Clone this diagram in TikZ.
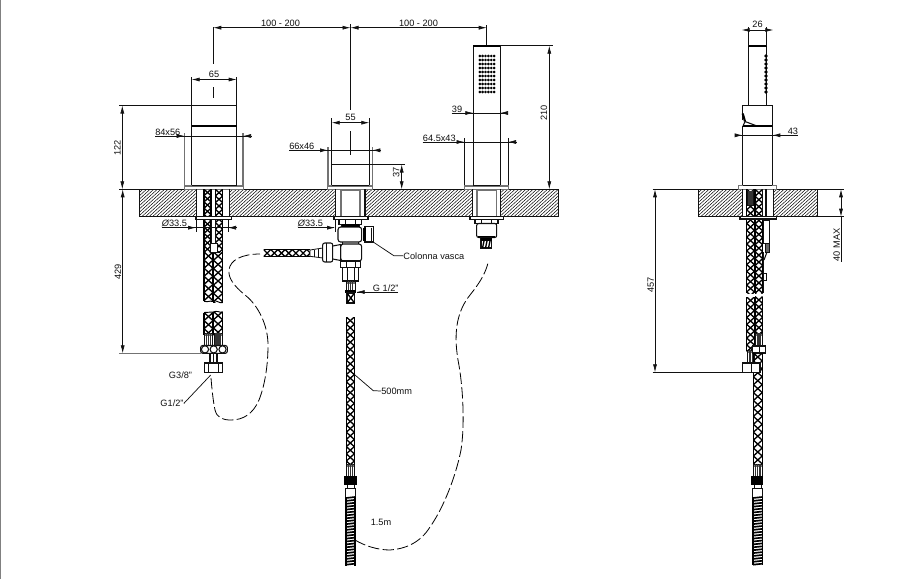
\documentclass[tikz,border=0pt]{standalone}
\usepackage{fontspec}
\setmainfont{Liberation Sans}
\usetikzlibrary{arrows.meta}
\definecolor{ink}{HTML}{111111}
\tikzset{
  ln/.style={draw=ink,line width=.8pt},
  thin ln/.style={draw=ink,line width=.55pt},
  gl/.style={draw=black!55,line width=.85pt},
  thick ln/.style={draw=black,line width=1.6pt},
  dim/.style={draw=ink,line width=.5pt,{Latex[length=6pt,width=3pt]}-{Latex[length=6pt,width=3pt]}},
  tip/.style={draw=ink,line width=.5pt,-{Latex[length=6pt,width=3pt]}},
  ext/.style={draw=ink,line width=.6pt},
  braid/.style={draw=black,line width=1pt},
  dash curve/.style={draw=black,line width=.6pt,dash pattern=on 8.5pt off 2.5pt,line cap=butt},
  lbl/.style={font=\fontsize{6.9}{8}\selectfont,text=ink,inner sep=0pt},
  lblr/.style={lbl,rotate=90},
}
\newcommand\hatchbox[4]{%
  \begin{scope}
    \clip (#1,#2) rectangle (#3,#4);
    \foreach \k in {0,3.6,...,460}{\draw[draw=black,line width=.36pt] ({#1+\k-30},{#4}) -- ({#1+\k},{#2});}
  \end{scope}
  \draw[ext] (#1,#2) rectangle (#3,#4);
}
\newcommand\hose[4]{%
  \begin{scope}
    \clip (#1,#3) rectangle (#2,#4);
    \pgfmathsetmacro\hw{#2-#1}
    \pgfmathsetmacro\hp{.9*\hw}
    \pgfmathtruncatemacro\hn{ceil((#4-#3)/\hp)}
    \foreach \k in {0,...,\hn}{
      \draw[braid] ({#1},{#3+\k*\hp}) -- ({#2},{#3+\k*\hp+\hp});
      \draw[braid] ({#2},{#3+\k*\hp}) -- ({#1},{#3+\k*\hp+\hp});
    }
  \end{scope}
  \draw[draw=black,line width=1pt] (#1,#3) -- (#1,#4) (#2,#3) -- (#2,#4);
}
\newcommand\hosex[4]{%
  \begin{scope}
    \clip (#1,#3) rectangle (#2,#4);
    \pgfmathsetmacro\hw{#4-#3}
    \pgfmathtruncatemacro\hn{ceil((#2-#1)/\hw)}
    \foreach \k in {0,...,\hn}{
      \draw[braid] ({#1+\k*\hw},{#3}) -- ({#1+\k*\hw+\hw},{#4});
      \draw[braid] ({#1+\k*\hw},{#4}) -- ({#1+\k*\hw+\hw},{#3});
    }
  \end{scope}
  \draw[draw=black,line width=1pt] (#1,#3) -- (#2,#3) (#1,#4) -- (#2,#4);
}
\newcommand\myspring[4]{%
  \draw[draw=black,line width=.9pt] (#1,#3) -- (#1,#4) (#2,#3) -- (#2,#4);
  \pgfmathtruncatemacro\hn{floor((#4-#3)/2.9)}
  \foreach \k in {0,...,\hn}{
    \draw[draw=black,line width=1.25pt] ({#1},{#3+\k*2.9+1}) -- ({#2},{#3+\k*2.9});
  }
}
\newcommand\ribs[4]{%
  \fill[black!55] (#1,#3) rectangle (#2,{#3+3});
  \draw[ext] (#1,#3) rectangle (#2,#4);
  \pgfmathsetmacro\hs{(#2-#1)/4}
  \foreach \k in {1,2,3}{\draw[draw=black!80,line width=.8pt] ({#1+\k*\hs},#3) -- ({#1+\k*\hs},#4);}
}
\begin{document}
\begin{tikzpicture}[x=.75pt,y=-.75pt]
\useasboundingbox (0,0) rectangle (914,579);
\fill[white] (0,0) rectangle (914,579);
\draw[draw=black!50,line width=1.05pt] (.7,0) -- (.7,579);
%% worktop, front view
\hatchbox{139.3}{189.3}{196.7}{216.7}
\hatchbox{229.3}{189.3}{335.7}{216.7}
\hatchbox{365}{189.3}{472.3}{216.7}
\hatchbox{500.7}{189.3}{558}{216.7}
\draw[ext] (119,189.3) -- (558,189.3);
%% left mixer
\draw[ext] (191.7,77) -- (191.7,186) (236.7,77) -- (236.7,186);
\draw[ext] (119,105.5) -- (236.7,105.5);
\draw[thick ln] (191.7,126) -- (236.7,126);
\draw[gl] (184.6,133) -- (184.6,186) (243,133) -- (243,186);
\draw[gl,fill=white] (184.3,186) rectangle (243.3,189.3);
\draw[ext] (191.7,185.5) -- (236.7,185.5);
\draw[dim] (191.7,79.5) -- (236.7,79.5);
\node[lbl] (t65) at (214,74) {65};
\draw[ext] (213.3,27) -- (213.3,63.5) (213.3,87) -- (213.3,97.5);
\draw[dim] (213.3,27.7) -- (350.5,27.7);
\node[lbl] (t100a) at (280.5,23.7) {100 - 200};
\draw[dim] (350.5,27.7) -- (486.7,27.7);
\node[lbl] (t100b) at (418.5,23.7) {100 - 200};
\draw[ext] (350.5,24) -- (350.5,110) (350.5,131) -- (350.5,155);
\draw[dim] (122.3,105.5) -- (122.3,189.3);
\node[lblr] (t122) at (117.5,148) {122};
\draw[ext] (155,136) -- (250,136);
\draw[tip] (176,136) -- (184.6,136);
\draw[tip] (251,136) -- (243,136);
\node[lbl,anchor=south west] (t84) at (155,135.4) {84x56};
%% left hoses
\draw[ext] (196.7,189.3) -- (196.7,216.7) (229.3,189.3) -- (229.3,216.7);
\hose{204}{211}{189.3}{252}
\hose{215.3}{222.7}{189.3}{252}
\hose{204}{213}{252}{301}
\hose{213.5}{222.7}{252}{302.5}
\draw[ext,fill=white] (211,219) rectangle (215.3,243);
\draw[ext,fill=white] (210,243) rectangle (217,252);
\draw[draw=black,line width=.7pt] (204,301) .. controls (207,303) and (210,300) .. (213,301.5) (213.5,301) .. controls (217,300) and (220,304) .. (222.7,302.5);
\draw[ln,fill=white] (196,216.7) rectangle (231.7,219.3);
\draw[ext] (196,219.3) -- (196,232) (228,219.3) -- (228,232);
\draw[ext] (161.7,227.7) -- (236.7,227.7);
\draw[tip] (188,227.7) -- (196,227.7);
\draw[tip] (237,227.7) -- (228,227.7);
\node[lbl,anchor=south west] (tphia) at (161.7,227) {{\itshape Ø}33.5};
\hose{204}{213}{312.5}{335}
\hose{213.5}{222.7}{311.5}{335}
\draw[draw=black,line width=.7pt] (204,312.5) .. controls (207,311) and (210,313.5) .. (213,312) (213.5,312) .. controls (216,310.5) and (220,312) .. (222.7,313);
\ribs{204.5}{212.5}{333}{346}
\ribs{214}{222}{333}{346}
\draw[ln,fill=white,rounded corners=1.5pt] (200.7,345.5) rectangle (227.3,353.3);
\foreach \cx in {205,213.7,222.5}{\draw[ln,fill=white] (\cx,349.4) circle[radius=3.6];}
\draw[ln,fill=white] (210,353.3) rectangle (217,363);
\draw[ext] (213.5,353.3) -- (213.5,363);
\draw[ln,fill=white] (204.3,363) rectangle (222.7,372.3);
\draw[ext] (208.5,363) -- (208.5,372.3) (218.5,363) -- (218.5,372.3);
\draw[dim] (122.7,189.3) -- (122.7,353.3);
\draw[gl] (119,353.3) -- (201,353.3);
\node[lblr] (t429) at (118,272) {429};
\node[lbl] (tg38) at (180.5,375) {G3/8"};
\node[lbl] (tg12) at (172,403.5) {G1/2"};
\draw[thin ln] (tg12.east) -- (210.7,375);
\draw[dash curve] (211,378) .. controls (212,390) and (213,400) .. (215,410) .. controls (217,418) and (223,420) .. (231,420) .. controls (243,420) and (253,414) .. (259,400) .. controls (265,385) and (268,365) .. (268,345) .. controls (268,325) and (258,305) .. (245,295) .. controls (234,286) and (228,278) .. (229,270) .. controls (230,260) and (242,254) .. (260,254);
%% centre mixer
\draw[ext] (331.7,118) -- (331.7,186) (369.3,118) -- (369.3,186);
\draw[dim] (331.7,122.7) -- (369.3,122.7);
\node[lbl] (t55) at (350.5,117) {55};
\draw[gl] (328,147) -- (328,186) (372.3,147) -- (372.3,186);
\draw[gl,fill=white] (327.7,186) rectangle (372.7,189.3);
\draw[ext] (331.7,185.3) -- (369.3,185.3);
\draw[ext] (331.7,164.5) -- (405,164.5);
\draw[ext] (289,150.3) -- (380,150.3);
\draw[tip] (319,150.3) -- (328,150.3);
\draw[tip] (381,150.3) -- (372.3,150.3);
\node[lbl,anchor=south west] (t66) at (289,149.6) {66x46};
\draw[dim] (401.7,164.5) -- (401.7,189.3);
\node[lblr] (t37) at (396.3,172.5) {37};
%% centre body
\draw[ln] (335.7,189.3) -- (335.7,216.7) (365,189.3) -- (365,216.7);
\draw[gl] (341,190.5) rectangle (360,216.7);
\draw[ln,fill=white] (334,216.7) rectangle (368,219.3);
\draw[ln,fill=white] (339,219.3) rectangle (361.7,224.5);
\draw[ext] (345,219.3) -- (345,224.5) (355.5,219.3) -- (355.5,224.5);
\draw[ln,fill=white,rounded corners=2pt] (338,227) rectangle (361.7,242);
\draw[ext] (341,224.5) -- (341,227) (359,224.5) -- (359,227);
\draw[thick ln] (342,225.5) -- (359,225.5);
\draw[ln,fill=white] (365,226.7) rectangle (373.3,242);
\draw[thick ln] (364.5,228) -- (364.5,241);
\draw[ext] (371,227.5) -- (371,241.5);
\draw[ln,fill=white,rounded corners=2pt] (340.7,244) rectangle (361.7,261);
\draw[ext] (342,242) -- (342,244) (358,242) -- (358,244);
\hosex{263.5}{310}{249.5}{256.7}
\draw[ext,fill=white] (310,250) -- (322.7,248) -- (322.7,258) -- (310,256.3) -- cycle;
\draw[ext] (314,249.5) -- (314,256.7) (318,249) -- (318,257.2);
\draw[ln,fill=white,rounded corners=1.5pt] (322.7,243) rectangle (332.7,262);
\draw[ext] (326,243) -- (326,262);
\draw[ln,fill=white] (332.7,246) -- (340.7,244.5) -- (340.7,260.5) -- (332.7,259) -- cycle;
\draw[ln,fill=white] (340.7,261) rectangle (360.7,267.7);
\draw[ext] (346,261) -- (346,267.7) (355,261) -- (355,267.7);
\draw[ln,fill=white] (342.7,267.7) rectangle (358.7,281);
\draw[ext] (347,267.7) -- (347,281) (354,267.7) -- (354,281);
\ribs{346}{355}{281}{291}
\fill[black] (345,290) rectangle (356,293);
\draw[ln,fill=white] (347,293) rectangle (354.5,303);
\draw[braid] (347,293) -- (354.5,303) (354.5,293) -- (347,303);
\draw[ext] (398,292) -- (357,292);
\draw[tip] (368,292) -- (356.7,292);
\node[lbl,anchor=south east] (tg12b) at (398.8,291.4) {G 1/2"};
\draw[ext] (335,219) -- (335,232);
\draw[ext] (297.7,227.7) -- (334,227.7);
\draw[tip] (326,227.7) -- (335,227.7);
\node[lbl,anchor=south west] (tphib) at (297.7,227) {{\itshape Ø}33.5};
\node[lbl,anchor=west] (tcol) at (403.2,255.8) {Colonna vasca};
\draw[thin ln] (tcol.west) -- (394,255.8) -- (372.7,241.7);
%% centre long hose
\hose{346.3}{354.3}{317}{464}
\ribs{346.3}{354.3}{464}{476}
\fill[black] (344,475.7) rectangle (356.7,485);
\draw[ext] (347,485) -- (347,489) (354,485) -- (354,489);
\draw[ext,fill=white] (345.5,488) rectangle (355,497);
\myspring{346}{355}{497}{566}
\node[lbl,anchor=west] (t500) at (381,391) {500mm};
\draw[thin ln] (t500.west) -- (373.3,390.7) -- (355,375);
\node[lbl,anchor=west] (t15) at (370.5,522) {1.5m};
\draw[dash curve] (355,540) .. controls (365,546) and (378,550) .. (390,550) .. controls (405,549) and (420,543) .. (430,527) .. controls (442,510) and (455,480) .. (461,450) .. controls (465,425) and (463,385) .. (458,360) .. controls (453,330) and (458,310) .. (470,295) .. controls (478,285) and (485,275) .. (488,263);
%% hand shower
\draw[ext] (473.3,45.7) -- (473.3,185) (500,45.7) -- (500,185);
\draw[thick ln] (473,45.7) -- (500.3,45.7);
\foreach \ix in {0,...,5}{\foreach \iy in {0,...,9}{
  \fill[black] ({479.8+\ix*2.85},{56+\iy*4.0}) circle[radius=1.45];}}
\draw[ext] (486.7,25) -- (486.7,45);
\draw[ext] (500,45.7) -- (553,45.7);
\draw[dim] (549.3,45.7) -- (549.3,189.3);
\node[lblr] (t210) at (544,113) {210};
\draw[ext] (451.7,113) -- (506.7,113);
\draw[tip] (465,113) -- (473.3,113);
\draw[tip] (507,113) -- (500,113);
\node[lbl,anchor=south west] (t39) at (451.7,112.4) {39};
\draw[ext] (422.7,142) -- (515.7,142);
\draw[tip] (456,142) -- (464.5,142);
\draw[tip] (516.5,142) -- (508,142);
\node[lbl,anchor=south west] (t645) at (422.7,141.4) {64.5x43};
\draw[ext] (464.5,138) -- (464.5,186) (508.2,138) -- (508.2,186);
\draw[gl,fill=white] (464.3,186) rectangle (508.3,189.3);
\draw[ext] (473.3,185) -- (500,185);
%% hand shower union
\draw[ln] (472.3,189.3) -- (472.3,216.7) (500.7,189.3) -- (500.7,216.7);
\draw[gl] (477,190.5) rectangle (496.5,216.7);
\draw[ln,fill=white] (470,216.7) rectangle (503.3,219.3);
\draw[ln,fill=white] (475,219.3) rectangle (498,223.5);
\draw[ext] (481,219.3) -- (481,223.5) (491,219.3) -- (491,223.5);
\draw[ln,fill=white,rounded corners=1.5pt] (476.7,223.5) rectangle (496.7,237.5);
\fill[black] (478,235.5) rectangle (495,237.5);
\draw[ln,fill=white] (481,238) rectangle (491.7,248);
\fill[black] (481,238) rectangle (491.7,241);
\foreach \ix in {482.5,485.5,488.5}{\draw[draw=black,line width=1pt] (\ix,248) -- ({\ix+1.5},241);}
%% side view, worktop
\hatchbox{698.3}{189.3}{742.7}{216.7}
\hatchbox{773.3}{189.3}{817.7}{216.7}
\draw[ext] (652.7,189.3) -- (844,189.3);
\draw[ext] (817.7,216.7) -- (844,216.7);
\draw[dim] (841,189.3) -- (841,216.7);
\draw[ext] (841,216.7) -- (841,261.7);
\node[lblr] (t40) at (836.7,245) {40 MAX};
\draw[dim] (655,189.3) -- (655,372.3);
\draw[ext] (652.7,372.3) -- (742,372.3);
\node[lblr] (t457) at (650.7,285) {457};
%% side view, handle
\draw[ext] (748.7,45.7) -- (748.7,105) (766.7,45.7) -- (766.7,105);
\draw[thick ln] (748.4,45.7) -- (767,45.7);
\foreach \iy in {0,...,9}{\fill[black] (766,{56+\iy*4.0}) circle[radius=1.8];}
\draw[ext] (748.7,27) -- (748.7,45.7) (766.7,27) -- (766.7,45.7);
\draw[dim] (741.7,30) -- (773.3,30);
\node[lbl] (t26) at (757.5,24.5) {26};
\draw[ln] (742.7,120) -- (742.7,105.5) -- (772.3,105.5) -- (772.3,186);
\draw[ln] (742.7,126) -- (742.7,186);
\draw[thick ln] (742.7,113.5) -- (745,121.5);
\draw[ln] (745,121.5) -- (757,126) (745,121.5) -- (743,126);
\draw[thick ln] (743,126) -- (772.3,126);
\draw[ext] (736,135.3) -- (798.3,135.3);
\draw[tip] (735,135.3) -- (742.7,135.3);
\draw[tip] (781,135.3) -- (772.3,135.3);
\node[lbl,anchor=south east] (t43) at (798.3,134.7) {43};
\draw[gl,fill=white] (738.7,185.5) rectangle (776.7,189.3);
\draw[ext] (742.7,185.5) -- (772.3,185.5);
%% side view, hoses
\draw[ln] (742.7,189.3) -- (742.7,216.7) (773.3,189.3) -- (773.3,216.7);
\hose{746.7}{754.3}{189.3}{293}
\hose{755}{762.7}{189.3}{293}
\ribs{747.5}{753.5}{191}{205}
\draw[ln] (762.7,189.3) -- (762.7,216.7) (766,189.3) -- (766,216.7);
\draw[ln,fill=white] (740,216.7) rectangle (776.7,219);
\draw[ext,fill=white] (763.3,220) rectangle (769.3,243);
\draw[ext,fill=black!60] (765,243) rectangle (769.3,252);
\draw[ln] (767,252) -- (764,260);
\draw[ext] (763,252) -- (763,293);
\draw[ext,fill=white] (763,273) rectangle (766.5,280);
\hose{746.7}{754.3}{297}{351}
\hose{755}{762.7}{296.5}{334}
\ribs{747.5}{754}{350}{362}
\ribs{755.5}{762.5}{333}{346}
\draw[ln,fill=white] (752.7,346) rectangle (765.7,353);
\draw[ext] (759,346) -- (759,353);
\hose{753.4}{762.2}{353}{464}
\draw[ln,fill=white] (742.3,363) rectangle (760,372.3);
\draw[ext] (751,363) -- (751,372.3);
\ribs{753.4}{762.2}{464}{476}
\fill[black] (751,475.5) rectangle (763.3,485);
\draw[ext] (754,485) -- (754,489) (761,485) -- (761,489);
\draw[ext,fill=white] (752.5,488) rectangle (762.5,497);
\myspring{753}{762.3}{497}{565}
\end{tikzpicture}
\end{document}
